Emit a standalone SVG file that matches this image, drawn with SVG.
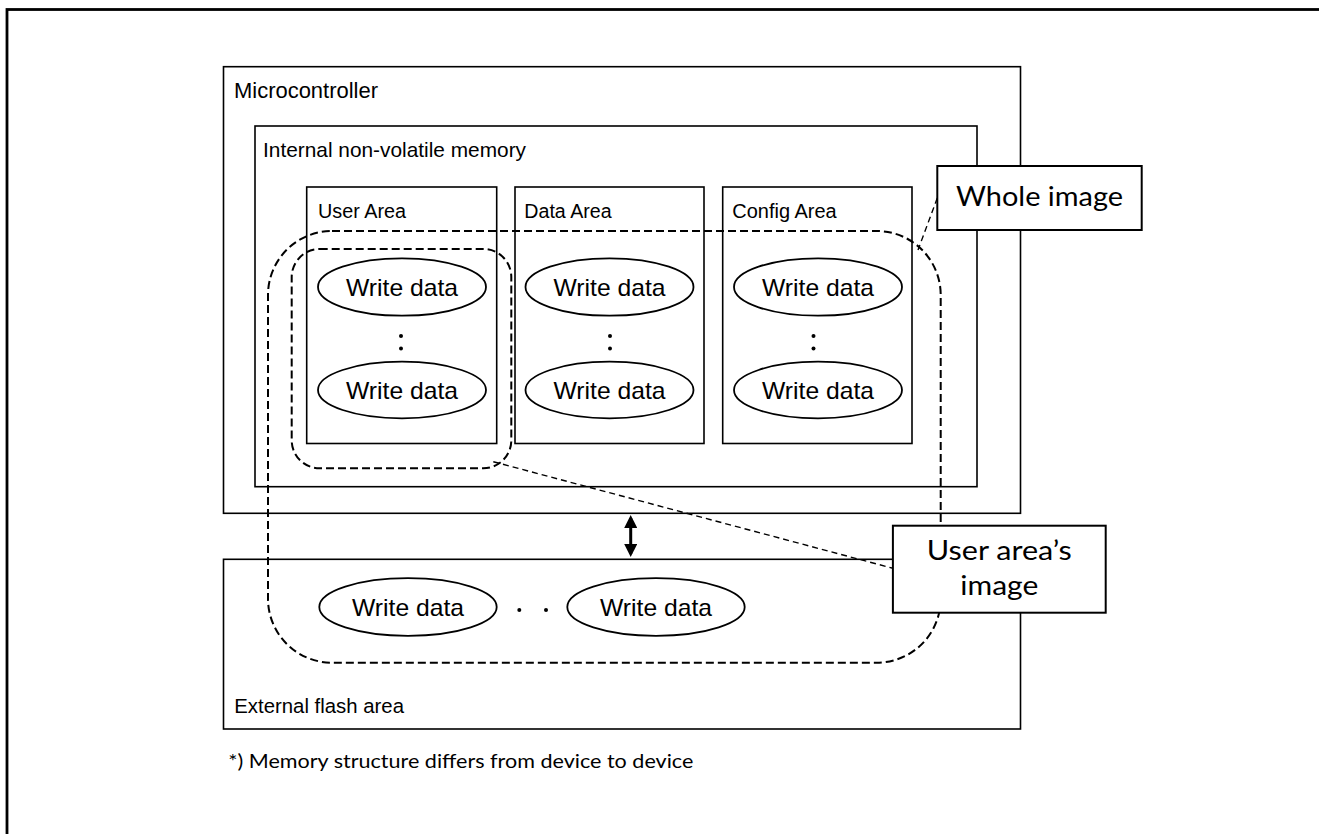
<svg xmlns="http://www.w3.org/2000/svg" width="1319" height="834" viewBox="0 0 1319 834">
<style>
.box{fill:none;stroke:#000;stroke-width:1.6}
.ell{fill:#fff;stroke:#000;stroke-width:1.8}
.lbl{font-family:"Liberation Sans",Arial,sans-serif;fill:#000}
.wd{font-family:"Liberation Sans",Arial,sans-serif;font-size:24px;fill:#000;text-anchor:middle}
.dash{fill:none;stroke:#000;stroke-width:2;stroke-dasharray:8 4}
.lead{fill:none;stroke:#000;stroke-width:1.4;stroke-dasharray:6 4}
.call{fill:#fff;stroke:#000;stroke-width:2}
.ct{font-family:Lato,"Noto Sans",sans-serif;font-size:27px;fill:#000;text-anchor:middle}
.dot{fill:#000}
</style>
<defs>
<marker id="ah" viewBox="0 0 13 13" refX="10" refY="6.5" markerWidth="13" markerHeight="13" markerUnits="userSpaceOnUse" orient="auto-start-reverse">
<path d="M0,0 L13,6.5 L0,13 z" fill="#000"/>
</marker>
</defs>
<rect width="1319" height="834" fill="#fff"/>
<g id="frame"><rect x="7" y="9.5" width="1400" height="900" fill="none" stroke="#000" stroke-width="2.8"/></g>

<g id="microcontroller">
<rect class="box" x="223.5" y="66.7" width="797" height="446.6"/>
<text class="lbl" x="234" y="98" font-size="22" textLength="144" lengthAdjust="spacingAndGlyphs">Microcontroller</text>
</g>

<g id="internal-memory">
<rect class="box" x="255" y="126" width="722" height="360.7"/>
<text class="lbl" x="263" y="156.5" font-size="21" textLength="263" lengthAdjust="spacingAndGlyphs">Internal non-volatile memory</text>
</g>

<g id="user-area">
<rect class="box" x="306.7" y="187" width="190" height="256.5"/>
<text class="lbl" x="318" y="218.3" font-size="20" textLength="88" lengthAdjust="spacingAndGlyphs">User Area</text>
<ellipse class="ell" cx="402" cy="287" rx="84" ry="28.7"/>
<text class="wd" x="402" y="295.6" textLength="112" lengthAdjust="spacingAndGlyphs">Write data</text>
<circle class="dot" cx="401" cy="336" r="2"/><circle class="dot" cx="401" cy="348.5" r="2"/>
<ellipse class="ell" cx="402" cy="390" rx="84" ry="28.3"/>
<text class="wd" x="402" y="398.6" textLength="112" lengthAdjust="spacingAndGlyphs">Write data</text>
</g>

<g id="data-area">
<rect class="box" x="515" y="187" width="189" height="256.5"/>
<text class="lbl" x="524.3" y="218.3" font-size="20" textLength="87.3" lengthAdjust="spacingAndGlyphs">Data Area</text>
<ellipse class="ell" cx="609.5" cy="287" rx="84" ry="28.7"/>
<text class="wd" x="609.5" y="295.6" textLength="112" lengthAdjust="spacingAndGlyphs">Write data</text>
<circle class="dot" cx="610" cy="336" r="2"/><circle class="dot" cx="610" cy="348.5" r="2"/>
<ellipse class="ell" cx="609.5" cy="390" rx="84" ry="28.3"/>
<text class="wd" x="609.5" y="398.6" textLength="112" lengthAdjust="spacingAndGlyphs">Write data</text>
</g>

<g id="config-area">
<rect class="box" x="722.7" y="187" width="189.3" height="256.5"/>
<text class="lbl" x="732.3" y="218.3" font-size="20" textLength="104.3" lengthAdjust="spacingAndGlyphs">Config Area</text>
<ellipse class="ell" cx="818" cy="287" rx="84" ry="28.7"/>
<text class="wd" x="818" y="295.6" textLength="112" lengthAdjust="spacingAndGlyphs">Write data</text>
<circle class="dot" cx="813.5" cy="336" r="2"/><circle class="dot" cx="813.5" cy="348.5" r="2"/>
<ellipse class="ell" cx="818" cy="390" rx="84" ry="28.3"/>
<text class="wd" x="818" y="398.6" textLength="112" lengthAdjust="spacingAndGlyphs">Write data</text>
</g>

<g id="external-flash">
<rect class="box" x="223.5" y="559.3" width="797" height="169.7"/>
<ellipse class="ell" cx="408" cy="607" rx="88.7" ry="28.8"/>
<text class="wd" x="408" y="615.6" textLength="112" lengthAdjust="spacingAndGlyphs">Write data</text>
<circle class="dot" cx="519.3" cy="610" r="2"/><circle class="dot" cx="546" cy="610" r="2"/>
<ellipse class="ell" cx="656" cy="607" rx="88.7" ry="28.8"/>
<text class="wd" x="656" y="615.6" textLength="112" lengthAdjust="spacingAndGlyphs">Write data</text>
<text class="lbl" x="234.3" y="713.3" font-size="20.5" textLength="169.7" lengthAdjust="spacingAndGlyphs">External flash area</text>
</g>

<g id="whole-image-region"><rect class="dash" x="268" y="231" width="672.7" height="431.7" rx="64" ry="64"/></g>
<g id="user-image-region"><rect class="dash" x="291.7" y="249" width="219.6" height="219.3" rx="28" ry="28"/></g>

<g id="connectors">
<line x1="630.7" y1="518" x2="630.7" y2="554" stroke="#000" stroke-width="3" marker-start="url(#ah)" marker-end="url(#ah)"/>
<line class="lead" x1="937.3" y1="198" x2="918" y2="250"/>
<line class="lead" x1="493.3" y1="461.7" x2="892.9" y2="568.3"/>
</g>

<g id="whole-image-callout">
<rect class="call" x="937.3" y="166" width="204.4" height="64"/>
<text class="ct" x="1039.5" y="205.7" textLength="167" lengthAdjust="spacingAndGlyphs">Whole image</text>
</g>

<g id="user-image-callout">
<rect class="call" x="892.9" y="525.7" width="212.8" height="87"/>
<text class="ct" x="999.3" y="560" textLength="145" lengthAdjust="spacingAndGlyphs">User area’s</text>
<text class="ct" x="999.3" y="595" textLength="78" lengthAdjust="spacingAndGlyphs">image</text>
</g>

<g id="footnote">
<text x="228.3" y="767.7" font-family="Lato,'Noto Sans',sans-serif" font-size="20" textLength="465" lengthAdjust="spacingAndGlyphs">*) Memory structure differs from device to device</text>
</g>
</svg>
